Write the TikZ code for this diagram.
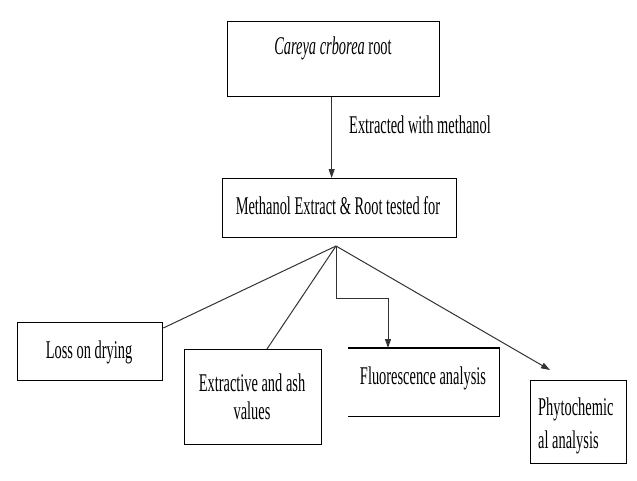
\documentclass[tikz,border=0pt]{standalone}
\usepackage{fontspec}
\setmainfont[FakeStretch=0.565]{Liberation Serif}
\usetikzlibrary{arrows.meta,calc}
\begin{document}
\begin{tikzpicture}[x=1pt,y=-1pt,
  box/.style={draw=black,line width=1.3pt,inner sep=0pt,anchor=north west},
  txt/.style={inner sep=0pt,font=\fontsize{25.5}{28}\selectfont},
  conn/.style={draw=black!80,line width=1pt},
  arr/.style={conn,-{Triangle[length=9pt,width=6pt]}}]
\useasboundingbox (0,0) rectangle (637,480);
\fill[white] (0,0) rectangle (637,480);
% boxes
\node[box,minimum width=212pt,minimum height=75pt] (top) at (227,21) {};
\node[box,minimum width=234pt,minimum height=59pt] (mid) at (222,178) {};
\node[box,minimum width=145pt,minimum height=58pt] (loss) at (17,322) {};
\node[box,minimum width=137pt,minimum height=95pt] (ext) at (184,349) {};
\node[inner sep=0pt,minimum width=151pt,minimum height=68pt,anchor=north west] (flu) at (348,348) {};
\draw[line width=1.3pt] (flu.north west) -- (flu.north east) -- (flu.south east) -- (flu.south west);
\node[box,minimum width=96pt,minimum height=83pt] (phy) at (530,380) {};
% texts
\node[txt] (topt) at (333,48) {\textit{Careya crborea} root};
\node[txt] (midt) at (338,206) {Methanol Extract \& Root tested for};
\node[txt] (losst) at (89,352) {Loss on drying};
\node[txt,align=center] (extt) at (252,397) {Extractive and ash\\values};
\node[txt] (flut) at (423,378) {Fluorescence analysis};
\node[txt,align=left,anchor=west,font=\fontsize{25.5}{33}\selectfont] (phyt) at (538,426) {Phytochemic\\al analysis};
\node[txt,anchor=west] (lab) at (349,125) {Extracted with methanol};
% connectors
\coordinate (apex) at (336,246);
\draw[arr] ($(top.south)+(-2,0)$) -- ($(mid.north)+(-8,0)$);
\draw[conn] (apex) -- ($(loss.north east)+(0,6)$);
\draw[conn] (apex) -- ($(ext.north west)+(83,0)$);
\draw[arr] (apex) -- (336,298) -| ($(flu.north west)+(40,0)$);
\coordinate (phytip) at ($(phy.north west)+(20,-10)$);
\draw[arr] (apex) -- (phytip);
\end{tikzpicture}
\end{document}
